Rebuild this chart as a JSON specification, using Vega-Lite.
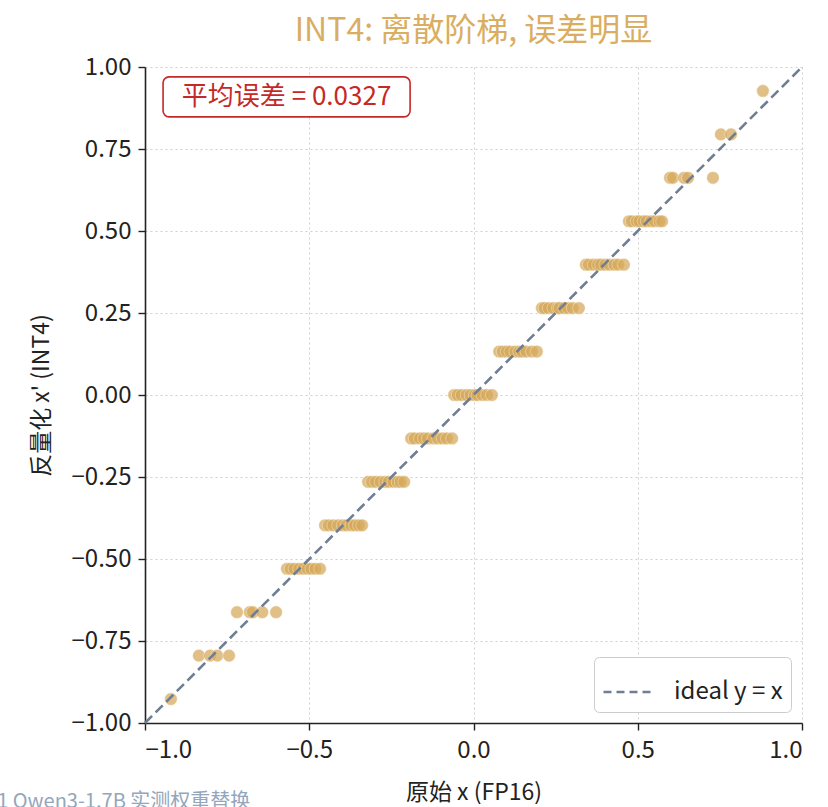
{
  "$schema": "https://vega.github.io/schema/vega-lite/v6.json",
  "width": 657,
  "height": 656,
  "autosize": {"type": "none"},
  "padding": {"left": 145, "top": 67, "right": 26, "bottom": 84},
  "background": "white",
  "title": {
    "text": "INT4: 离散阶梯, 误差明显",
    "fontSize": 32,
    "font": "Noto Sans CJK SC",
    "fontWeight": "normal",
    "color": "#D9AE62",
    "anchor": "middle",
    "offset": 7
  },
  "config": {
    "view": {"stroke": null},
    "font": "Noto Sans CJK SC",
    "axis": {
      "domainColor": "#222222",
      "domainWidth": 1.6,
      "tickColor": "#222222",
      "tickWidth": 1.4,
      "tickSize": 7,
      "labelFontSize": 24,
      "labelColor": "#222222",
      "titleFontSize": 23,
      "titleFontWeight": "normal",
      "titleColor": "#222222",
      "gridColor": "#cfcfcf",
      "gridDash": [2, 3],
      "gridWidth": 1
    }
  },
  "datasets": {
    "points": [
      {"x": -0.921, "y": -0.927},
      {"x": -0.836, "y": -0.7946}, {"x": -0.802, "y": -0.7946}, {"x": -0.780, "y": -0.7946}, {"x": -0.744, "y": -0.7946},
      {"x": -0.720, "y": -0.6622}, {"x": -0.681, "y": -0.6622}, {"x": -0.672, "y": -0.6622}, {"x": -0.643, "y": -0.6622}, {"x": -0.601, "y": -0.6622},
      {"x": -0.568, "y": -0.5297}, {"x": -0.557, "y": -0.5297}, {"x": -0.545, "y": -0.5297}, {"x": -0.531, "y": -0.5297}, {"x": -0.518, "y": -0.5297}, {"x": -0.505, "y": -0.5297}, {"x": -0.494, "y": -0.5297}, {"x": -0.481, "y": -0.5297}, {"x": -0.467, "y": -0.5297},
      {"x": -0.452, "y": -0.3973}, {"x": -0.441, "y": -0.3973}, {"x": -0.427, "y": -0.3973}, {"x": -0.412, "y": -0.3973}, {"x": -0.398, "y": -0.3973}, {"x": -0.386, "y": -0.3973}, {"x": -0.372, "y": -0.3973}, {"x": -0.361, "y": -0.3973}, {"x": -0.349, "y": -0.3973}, {"x": -0.339, "y": -0.3973},
      {"x": -0.321, "y": -0.2649}, {"x": -0.309, "y": -0.2649}, {"x": -0.297, "y": -0.2649}, {"x": -0.283, "y": -0.2649}, {"x": -0.269, "y": -0.2649}, {"x": -0.258, "y": -0.2649}, {"x": -0.244, "y": -0.2649}, {"x": -0.231, "y": -0.2649}, {"x": -0.222, "y": -0.2649}, {"x": -0.211, "y": -0.2649},
      {"x": -0.190, "y": -0.1324}, {"x": -0.179, "y": -0.1324}, {"x": -0.163, "y": -0.1324}, {"x": -0.151, "y": -0.1324}, {"x": -0.139, "y": -0.1324}, {"x": -0.122, "y": -0.1324}, {"x": -0.108, "y": -0.1324}, {"x": -0.094, "y": -0.1324}, {"x": -0.081, "y": -0.1324}, {"x": -0.065, "y": -0.1324},
      {"x": -0.059, "y": 0}, {"x": -0.048, "y": 0}, {"x": -0.036, "y": 0}, {"x": -0.021, "y": 0}, {"x": -0.009, "y": 0}, {"x": 0.004, "y": 0}, {"x": 0.012, "y": 0}, {"x": 0.027, "y": 0}, {"x": 0.041, "y": 0}, {"x": 0.056, "y": 0},
      {"x": 0.078, "y": 0.1324}, {"x": 0.089, "y": 0.1324}, {"x": 0.101, "y": 0.1324}, {"x": 0.112, "y": 0.1324}, {"x": 0.127, "y": 0.1324}, {"x": 0.139, "y": 0.1324}, {"x": 0.148, "y": 0.1324}, {"x": 0.161, "y": 0.1324}, {"x": 0.178, "y": 0.1324}, {"x": 0.193, "y": 0.1324},
      {"x": 0.208, "y": 0.2649}, {"x": 0.216, "y": 0.2649}, {"x": 0.229, "y": 0.2649}, {"x": 0.243, "y": 0.2649}, {"x": 0.257, "y": 0.2649}, {"x": 0.262, "y": 0.2649}, {"x": 0.276, "y": 0.2649}, {"x": 0.288, "y": 0.2649}, {"x": 0.302, "y": 0.2649}, {"x": 0.321, "y": 0.2649},
      {"x": 0.342, "y": 0.3973}, {"x": 0.351, "y": 0.3973}, {"x": 0.366, "y": 0.3973}, {"x": 0.379, "y": 0.3973}, {"x": 0.388, "y": 0.3973}, {"x": 0.401, "y": 0.3973}, {"x": 0.414, "y": 0.3973}, {"x": 0.429, "y": 0.3973}, {"x": 0.441, "y": 0.3973}, {"x": 0.458, "y": 0.3973},
      {"x": 0.473, "y": 0.5297}, {"x": 0.482, "y": 0.5297}, {"x": 0.497, "y": 0.5297}, {"x": 0.505, "y": 0.5297}, {"x": 0.518, "y": 0.5297}, {"x": 0.527, "y": 0.5297}, {"x": 0.541, "y": 0.5297}, {"x": 0.552, "y": 0.5297}, {"x": 0.566, "y": 0.5297}, {"x": 0.574, "y": 0.5297},
      {"x": 0.598, "y": 0.6622}, {"x": 0.607, "y": 0.6622}, {"x": 0.641, "y": 0.6622}, {"x": 0.653, "y": 0.6622}, {"x": 0.729, "y": 0.6622},
      {"x": 0.753, "y": 0.7946}, {"x": 0.784, "y": 0.7946},
      {"x": 0.881, "y": 0.927}
    ],
    "ideal": [
      {"x": -1, "y": -1, "series": "ideal y = x"},
      {"x": 1, "y": 1, "series": "ideal y = x"}
    ],
    "note": [
      {"label": "平均误差 = 0.0327", "foot": "1 Qwen3-1.7B 实测权重替换"}
    ]
  },
  "layer": [
    {
      "data": {"name": "points"},
      "mark": {"type": "circle", "size": 160, "color": "#D6A95A", "opacity": 0.72, "stroke": "white", "strokeWidth": 0.6, "strokeOpacity": 0.8},
      "encoding": {
        "x": {
          "field": "x", "type": "quantitative",
          "scale": {"domain": [-1, 1], "nice": false, "zero": false},
          "axis": {"values": [-1, -0.5, 0, 0.5, 1], "format": ".1f", "title": "原始 x (FP16)", "labelPadding": 8, "titlePadding": 19}
        },
        "y": {
          "field": "y", "type": "quantitative",
          "scale": {"domain": [-1, 1], "nice": false, "zero": false},
          "axis": {"values": [-1, -0.75, -0.5, -0.25, 0, 0.25, 0.5, 0.75, 1], "format": ".2f", "title": "反量化 x' (INT4)", "labelPadding": 7, "titlePadding": 18}
        }
      }
    },
    {
      "data": {"name": "ideal"},
      "mark": {"type": "line", "strokeDash": [10, 5], "strokeWidth": 2.6},
      "encoding": {
        "x": {"field": "x", "type": "quantitative"},
        "y": {"field": "y", "type": "quantitative"},
        "color": {
          "field": "series", "type": "nominal",
          "scale": {"domain": ["ideal y = x"], "range": ["#6F7E93"]},
          "legend": {
            "title": null,
            "orient": "bottom-right",
            "offset": 11,
            "strokeColor": "#cccccc",
            "fillColor": "white",
            "cornerRadius": 5,
            "padding": 8,
            "symbolType": "M-1,0H1",
            "symbolDash": [8, 5],
            "symbolStrokeWidth": 2.6,
            "symbolSize": 2600,
            "labelFontSize": 24,
            "labelColor": "#222222",
            "labelOffset": 18
          }
        }
      }
    },
    {
      "data": {"name": "note"},
      "mark": {"type": "rect", "fill": "white", "stroke": "#C62828", "strokeWidth": 1.6, "cornerRadius": 6},
      "encoding": {
        "x": {"datum": -0.945, "type": "quantitative"},
        "x2": {"datum": -0.193},
        "y": {"datum": 0.97, "type": "quantitative"},
        "y2": {"datum": 0.848}
      }
    },
    {
      "data": {"name": "note"},
      "mark": {"type": "text", "fontSize": 26, "color": "#C62828", "align": "center", "baseline": "middle"},
      "encoding": {
        "x": {"datum": -0.569, "type": "quantitative"},
        "y": {"datum": 0.909, "type": "quantitative"},
        "text": {"field": "label"}
      }
    },
    {
      "data": {"name": "note"},
      "mark": {"type": "text", "fontSize": 20, "color": "#93A6BC", "align": "left", "baseline": "top"},
      "encoding": {
        "x": {"datum": -1.45, "type": "quantitative"},
        "y": {"datum": -1.21, "type": "quantitative"},
        "text": {"field": "foot"}
      }
    }
  ]
}
